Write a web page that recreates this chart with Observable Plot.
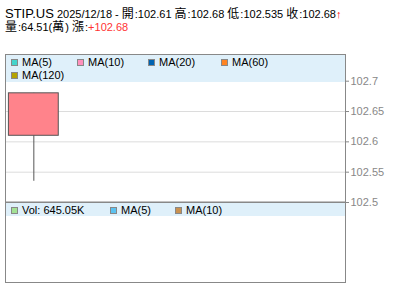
<!DOCTYPE html>
<html lang="zh-Hant">
<head>
<meta charset="utf-8">
<script src="https://cdn.jsdelivr.net/npm/d3@7"></script>
<script src="https://cdn.jsdelivr.net/npm/@observablehq/plot@0.6"></script>
<style>
  html, body { margin: 0; padding: 0; background: #fff; }
  #wrap { position: relative; width: 400px; height: 301px; overflow: hidden; font-family: Arial, "Liberation Sans", "Noto Sans CJK TC", sans-serif; color: #000; }
  #wrap svg { position: absolute; left: 0; top: 0; }
  .line { position: absolute; left: 5px; white-space: nowrap; font-size: 11px; line-height: 13px; height: 13px; }
  .cjk { font-size: 12px; margin-right: 1px; }
  .big { font-size: 13px; }
  .band { position: absolute; background: #dff0fa; }
  .item { position: absolute; font-size: 11px; line-height: 13px; white-space: nowrap; }
  .sw { display: inline-block; width: 5px; height: 5px; border: 1px solid #888; vertical-align: 0px; margin-right: 4px; }
</style>
</head>
<body>
<div id="wrap"></div>
<script>
// ---- data ----
const symbol = "STIP.US";
const dates = ["2025/12/18"];
const open = [102.61];
const high = [102.68];
const low = [102.535];
const close = [102.68];
const volumeWan = [64.51];
const volLabel = "645.05K";
const change = [102.68];
const yTicks = [102.5, 102.55, 102.6, 102.65, 102.7];
const maLabels = ["MA(5)", "MA(10)", "MA(20)", "MA(60)", "MA(120)"];
const maColors = ["#44d4cc", "#ff90bc", "#0063b1", "#ff8422", "#b5a300"];
const volLegendLabels = ["Vol: " + volLabel, "MA(5)", "MA(10)"];
const volLegendColors = ["#a3e295", "#5bc2f0", "#c99150"];

// ---- layout constants ----
const W = 400, H = 301;
const panelLeft = 5, panelRight = 345, mainTop = 54, mainBottom = 202, volBottom = 282;
const maPos = [[11, 56], [77, 56], [148, 56], [221, 56], [11, 69]];
const volPos = [[11, 203.5], [110, 203.5], [175, 203.5]];

const rows = dates.map((d, i) => ({i, date: d, open: open[i], high: high[i], low: low[i], close: close[i]}));
const fmt = d => String(+d.toFixed(3));

const wrap = document.getElementById("wrap");

const main = Plot.plot({
  width: W, height: H,
  marginLeft: panelLeft, marginRight: W - panelRight,
  marginTop: mainTop, marginBottom: H - mainBottom,
  style: {background: "transparent"},
  x: {domain: [0, 6], axis: null},
  y: {domain: [102.5, 102.744], axis: null},
  marks: [
    Plot.ruleY(yTicks.slice(1), {stroke: "#dcdcdc"}),
    Plot.ruleX(rows, {x: d => d.i + 0.5, y1: "low", y2: "high", stroke: "#555"}),
    Plot.rectY(rows, {x1: d => d.i + 0.06, x2: d => d.i + 0.94, y1: "open", y2: "close", fill: "#ff838b", stroke: "#555", insetLeft: 0, insetRight: 0}),
    Plot.frame({stroke: "#888"}),
    Plot.ruleY([yTicks[0]], {stroke: "#888", strokeWidth: 2}),
    Plot.axisY(yTicks, {anchor: "right", tickSize: 3, tickPadding: 2, tickFormat: fmt, fontSize: 11, fill: "#888", stroke: "#888", fontFamily: "Arial, 'Liberation Sans', sans-serif"})
  ]
});
wrap.appendChild(main);

const vol = Plot.plot({
  width: W, height: H,
  marginLeft: panelLeft, marginRight: W - panelRight,
  marginTop: mainBottom, marginBottom: H - volBottom,
  style: {background: "transparent"},
  x: {domain: [0, 6], axis: null},
  y: {domain: [0, 1], axis: null},
  marks: [Plot.frame({stroke: "#888"})]
});
wrap.appendChild(vol);

// bands
function band(top, height) {
  const b = document.createElement("div");
  b.className = "band";
  b.style.left = (panelLeft + 1) + "px";
  b.style.width = (panelRight - panelLeft - 1) + "px";
  b.style.top = top + "px";
  b.style.height = height + "px";
  wrap.appendChild(b);
}
band(mainTop + 1, 27);
band(mainBottom + 1, 13);

function item(label, color, pos) {
  const el = document.createElement("div");
  el.className = "item";
  el.style.left = pos[0] + "px";
  el.style.top = pos[1] + "px";
  el.innerHTML = `<span class="sw" style="background:${color}"></span>${label}`;
  wrap.appendChild(el);
}
maLabels.forEach((l, i) => item(l, maColors[i], maPos[i]));
volLegendLabels.forEach((l, i) => item(l, volLegendColors[i], volPos[i]));

// title lines
const cjk = s => s.replace(/([\u3400-\u9fff])/g, '<span class="cjk">$1</span>');
const t1 = document.createElement("div");
t1.className = "line";
t1.style.top = "6.5px";
t1.innerHTML = `<span class="big">${symbol}</span> ${dates[0]} - ` + cjk(`開:${open[0]} 高:${high[0]} 低:${low[0]} 收:${close[0]}`) + `<span style="color:#f00;font-weight:bold">↑</span>`;
wrap.appendChild(t1);
const t2 = document.createElement("div");
t2.className = "line";
t2.style.top = "20.5px";
t2.innerHTML = cjk(`量:${volumeWan[0]}(萬) 漲:`) + `<span style="color:#f33">+${change[0]}</span>`;
wrap.appendChild(t2);
</script>
</body>
</html>
